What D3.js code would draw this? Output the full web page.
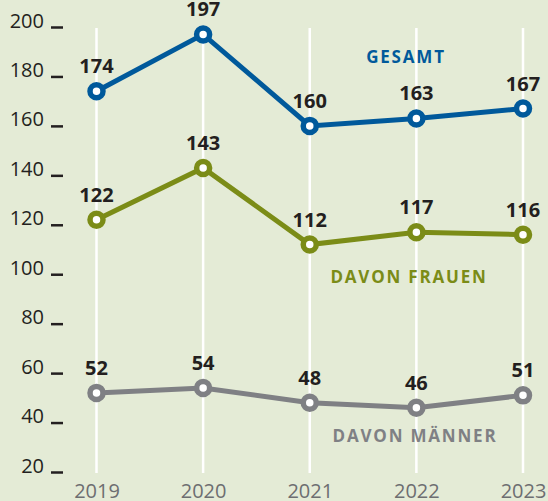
<html>
<script src="https://d3js.org/d3.v7.min.js"></script>
<body style="margin:0">
<svg width=548 height=501></svg>
<script>
const years = [2019, 2020, 2021, 2022, 2023];
const gesamt = [174, 197, 160, 163, 167];
const frauen = [122, 143, 112, 117, 116];
const maenner = [52, 54, 48, 46, 51];
const yTicks = [20, 40, 60, 80, 100, 120, 140, 160, 180, 200];

const series = [
    {name: 'GESAMT', values: gesamt, color: '#00599b', lx: 406, ly: 63},
    {name: 'DAVON FRAUEN', values: frauen, color: '#7b8c17', lx: 409, ly: 283},
    {name: 'DAVON MÄNNER', values: maenner, color: '#7f8084', lx: 415, ly: 442}
];

const svg = d3.select('svg');
svg.append('rect').attr('width', 548).attr('height', 501).attr('fill', '#e4ebd6');

const x = d3.scaleLinear().domain([2019, 2023]).range([96.5, 523]);
const y = d3.scaleLinear().domain([20, 200]).range([472, 27]);

// white vertical gridlines
svg.append('g').selectAll('line').data(years).enter().append('line')
    .attr('x1', d => x(d)).attr('x2', d => x(d))
    .attr('y1', 28).attr('y2', 473)
    .attr('stroke', 'white').attr('stroke-width', 2.5);

// y axis: label + short dash
const yAxis = svg.append('g').attr('transform', 'translate(51,0)')
    .call(d3.axisLeft(y).tickValues(yTicks).tickSizeInner(-12).tickSizeOuter(0).tickPadding(7));
yAxis.select('.domain').remove();
yAxis.selectAll('line').attr('stroke', '#231f20').attr('stroke-width', 2.5);
yAxis.selectAll('text').attr('dy', '0').attr('fill', '#231f20')
    .style('font-family', 'Open Sans').style('font-size', '20px');

// x axis
const xAxis = svg.append('g').attr('transform', 'translate(0,481)')
    .call(d3.axisBottom(x).tickValues(years).tickFormat(d3.format('d')).tickSize(0));
xAxis.select('.domain').remove();
xAxis.selectAll('text').attr('fill', '#6d6e71')
    .style('font-family', 'Open Sans').style('font-size', '20px');

const line = d3.line().x((d, i) => x(years[i])).y(d => y(d));

series.forEach(s => {
    const g = svg.append('g');
    g.append('path').datum(s.values)
        .attr('fill', 'none').attr('stroke', s.color).attr('stroke-width', 5)
        .attr('d', line);
    g.selectAll('circle').data(s.values).enter().append('circle')
        .attr('cx', (d, i) => x(years[i])).attr('cy', d => y(d))
        .attr('r', 6.5).attr('fill', 'white')
        .attr('stroke', s.color).attr('stroke-width', 5.5);
    g.selectAll('text.val').data(s.values).enter().append('text')
        .attr('class', 'val')
        .attr('x', (d, i) => x(years[i])).attr('y', d => y(d) - 18)
        .attr('text-anchor', 'middle').attr('fill', '#231f20')
        .style('font-family', 'Open Sans').style('font-weight', 'bold').style('font-size', '20px')
        .text(d => d);
    g.append('text')
        .attr('x', s.lx).attr('y', s.ly).attr('text-anchor', 'middle')
        .attr('fill', s.color)
        .style('font-family', 'Open Sans').style('font-weight', 'bold')
        .style('font-size', '17px').style('letter-spacing', '1.8px')
        .text(s.name);
});
</script>
</body>
</html>
